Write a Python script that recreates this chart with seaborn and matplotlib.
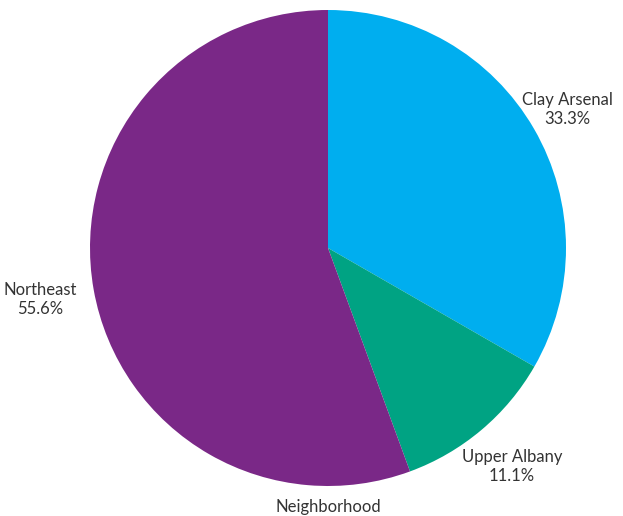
import matplotlib
matplotlib.use("Agg")
import matplotlib.pyplot as plt
import numpy as np
import seaborn as sns

# neighborhood shares, clockwise from 12 o'clock
neighborhoods = ["Clay Arsenal", "Upper Albany", "Northeast"]
shares = [33.3, 11.1, 55.6]
colors = ["#00AEEF", "#00A383", "#7A2887"]
label_dist = [1.16, 1.20, 1.23]  # label centre distance (in radii)

sns.set_theme(style="white")
plt.rcParams['font.family'] = ['Lato', 'DejaVu Sans']

fig = plt.figure(figsize=(6.23, 5.16), dpi=100)
ax = fig.add_axes([90/623, 30/516, 476/623, 476/516])

labels = [f"{n}\n{s:.1f}%" for n, s in zip(neighborhoods, shares)]
wedges, texts = ax.pie(shares, labels=labels, colors=sns.color_palette(colors),
                       startangle=90, counterclock=False,
                       wedgeprops=dict(linewidth=0),
                       textprops=dict(fontsize=12, color="#333333"))
for w, t, d in zip(wedges, texts, label_dist):
    ang = np.deg2rad((w.theta1 + w.theta2) / 2)
    t.set_position((d * np.cos(ang), d * np.sin(ang)))
    t.set_ha("center")
    t.set_va("center")
    t.set_multialignment("center")
ax.set_xlim(-1, 1)
ax.set_ylim(-1, 1)

fig.text(328/623, 1 - 507/516, "Neighborhood", ha="center", va="center",
         fontsize=12, color="#333333")

fig.savefig("out.png", dpi=100)
